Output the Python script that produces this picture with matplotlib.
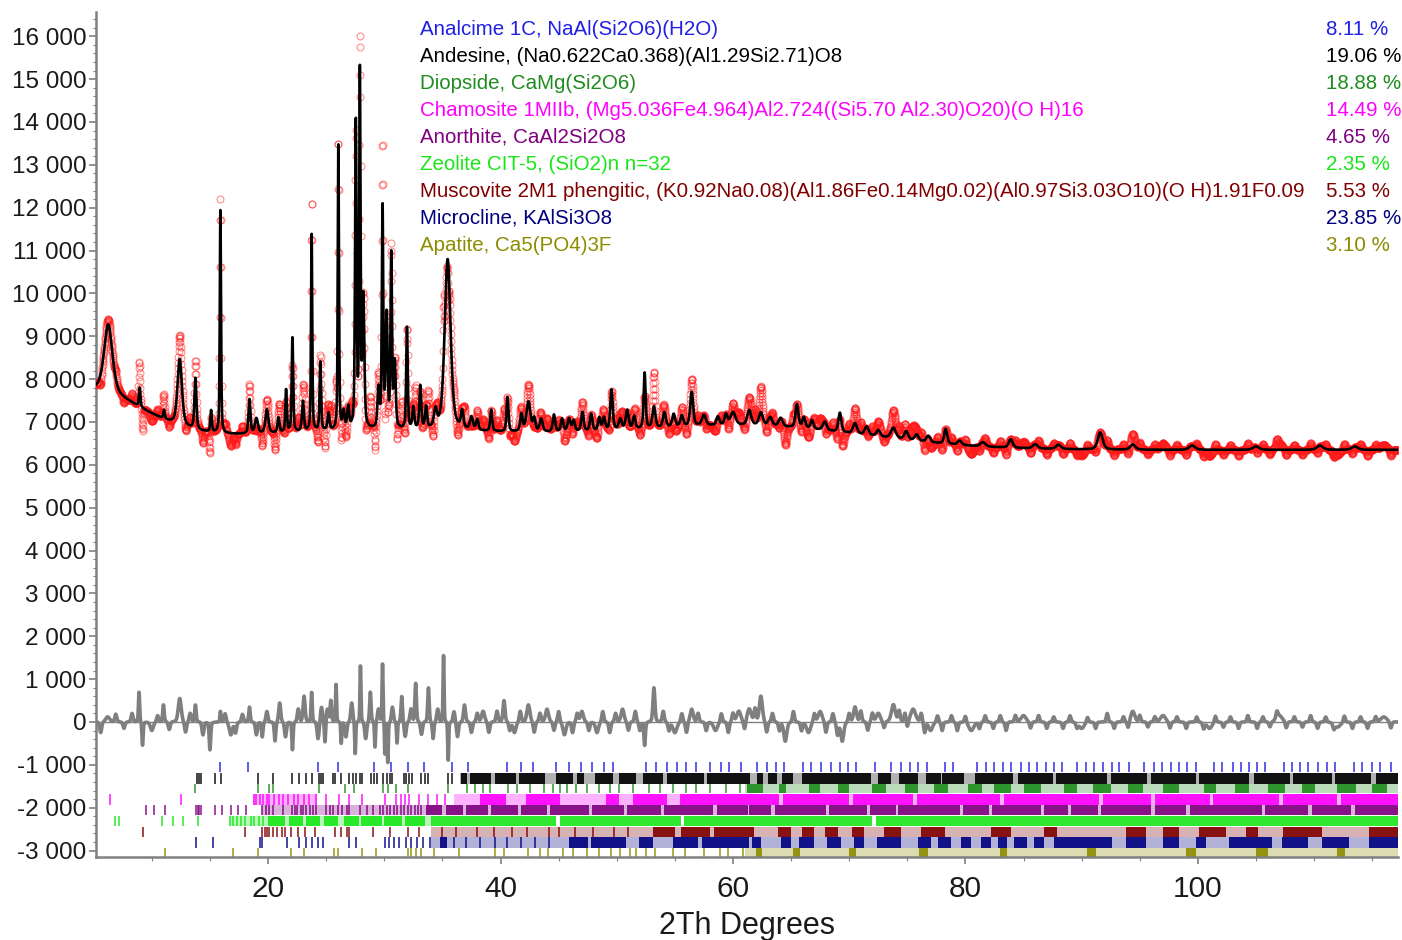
import numpy as np
import matplotlib
matplotlib.use("Agg")
import matplotlib.pyplot as plt
from matplotlib.ticker import FuncFormatter, MultipleLocator

plt.rcParams['font.family'] = ['Liberation Sans', 'DejaVu Sans']

# ---- data ----
two_theta_min, two_theta_max, step = 5.2, 117.2, 0.02

# background: flat level + broad humps (centre, height, sigma)
bg_level = 6350
bg_humps = [(4.0, 1300, 5.0), (30.0, 450, 16.0), (62.0, 500, 10.0)]

# calculated peaks: 2theta, height above background, fwhm
calc_pos = [6.25, 8.95, 11.05, 12.4, 13.75, 15.1, 15.9, 18.4, 19.0, 19.9,
            20.9, 21.55, 22.1, 23.0, 23.75, 24.5, 25.2, 26.05, 26.5, 26.9,
            27.55, 27.9, 28.2, 29.5, 29.85, 30.2, 30.6, 30.9, 31.95, 32.5,
            33.1, 33.6, 34.4, 35.45, 36.7, 37.5, 38.0, 39.2, 40.6, 41.8,
            42.4, 42.9, 43.5, 44.6, 45.3, 45.9, 46.3, 47.05, 47.8, 48.5,
            48.9, 49.55, 50.3, 50.9, 51.5, 52.4, 53.2, 54.1, 54.9, 55.6,
            56.45, 57.5, 58.7, 59.4, 60.0, 61.4, 62.4, 63.2, 64.1, 65.5,
            66.1, 66.8, 67.9, 69.2, 70.5, 71.5, 72.5, 73.8, 74.9, 75.8,
            76.8, 78.3, 79.5, 81.5, 83.9, 86.0, 88.0, 91.6, 94.4, 99.5,
            105.0, 110.5, 113.5]
calc_height = [1600, 450, 200, 1550, 1200, 500, 5200, 800, 350, 550,
               350, 1000, 2200, 700, 4700, 1600, 400, 6800, 400, 500,
               7200, 8200, 3000, 900, 5200, 2600, 4000, 1500, 2400, 500,
               1000, 500, 400, 4000, 400, 300, 250, 500, 800, 400,
               700, 300, 300, 400, 300, 300, 250, 450, 400, 300,
               300, 950, 250, 450, 300, 1300, 500, 350, 300, 250,
               800, 250, 200, 250, 300, 350, 300, 200, 200, 550,
               250, 200, 200, 450, 250, 200, 150, 250, 200, 150,
               150, 350, 100, 100, 200, 100, 100, 400, 120, 100,
               80, 100, 80]
calc_fwhm = [0.85, 0.15, 0.15, 0.45, 0.2, 0.15, 0.12, 0.2, 0.3, 0.3,
             0.2, 0.15, 0.15, 0.2, 0.12, 0.15, 0.2, 0.12, 0.2, 0.2,
             0.15, 0.13, 0.2, 0.2, 0.14, 0.2, 0.15, 0.2, 0.15, 0.2,
             0.2, 0.2, 0.3, 0.6, 0.25, 0.3, 0.25, 0.2, 0.2, 0.25,
             0.4, 0.25, 0.3, 0.25, 0.25, 0.3, 0.25, 0.25, 0.25, 0.25,
             0.25, 0.25, 0.3, 0.3, 0.25, 0.2, 0.3, 0.3, 0.3, 0.3,
             0.3, 0.4, 0.3, 0.3, 0.5, 0.4, 0.4, 0.4, 0.4, 0.3,
             0.3, 0.3, 0.4, 0.3, 0.4, 0.4, 0.4, 0.5, 0.4, 0.4,
             0.4, 0.3, 0.4, 0.5, 0.4, 0.5, 0.5, 0.5, 0.5, 0.6,
             0.6, 0.6, 0.6]

# difference (observed - calculated) features: 2theta, amplitude, fwhm
diff_pos = [6.2, 8.9, 9.2, 10.0, 11.0, 12.4, 13.75, 15.0, 15.9, 16.8,
            18.4, 19.5, 20.6, 21.0, 22.1, 23.1, 23.75, 24.9, 25.4, 25.85,
            26.3, 27.5, 27.95, 28.8, 29.2, 29.85, 30.05, 30.3, 31.1, 31.5,
            32.7, 33.8, 34.2, 35.1, 35.5, 36.3, 36.9, 38.5, 40.3, 41.2,
            42.4, 44.0, 45.5, 47.0, 48.3, 50.5, 52.4, 53.2, 55.0, 56.45,
            58.5, 60.5, 61.4, 62.4, 64.5, 66.5, 67.5, 69.4, 70.5, 72.5,
            73.8, 75.5, 77.0, 80.5, 85.0, 90.0, 94.4, 97.0, 101.0, 107.0,
            112.0, 116.0]
diff_amp = [120, 700, -550, -200, 400, 550, 400, -650, 250, -300,
            350, -350, -450, 450, -650, 600, 700, -500, 500, 900,
            -500, -750, 1350, 700, -600, 1400, -800, -950, -500, 600,
            900, 800, -400, 1550, -900, -350, 400, 250, 500, -250,
            400, 300, -300, 250, -250, 300, -550, 800, -250, 300,
            -200, 250, 300, 600, -450, -250, 250, -450, 350, 200,
            400, 300, -200, -200, 150, -150, 250, 150, -150, 150,
            -120, 120]
diff_fwhm = [0.4, 0.12, 0.12, 0.3, 0.15, 0.3, 0.15, 0.15, 0.1, 0.3,
             0.15, 0.15, 0.15, 0.2, 0.12, 0.2, 0.12, 0.12, 0.15, 0.1,
             0.1, 0.1, 0.1, 0.15, 0.1, 0.1, 0.08, 0.1, 0.1, 0.15,
             0.15, 0.15, 0.15, 0.1, 0.1, 0.2, 0.2, 0.3, 0.2, 0.3,
             0.3, 0.3, 0.3, 0.3, 0.3, 0.3, 0.15, 0.2, 0.4, 0.3,
             0.4, 0.4, 0.4, 0.3, 0.3, 0.4, 0.4, 0.3, 0.3, 0.4,
             0.4, 0.5, 0.4, 0.5, 0.5, 0.5, 0.4, 0.5, 0.5, 0.6,
             0.6, 0.6]

# small wiggles of the difference curve: 2theta, amplitude (fwhm 0.2)
wiggle_pos = [5.6, 6.9, 7.6, 8.3, 10.5, 11.5, 12.9, 13.3, 14.4, 16.3,
              17.2, 17.8, 19.0, 19.9, 21.5, 22.6, 24.3, 24.6, 25.1, 26.7,
              27.2, 28.4, 29.5, 30.7, 31.8, 32.3, 33.2, 34.6, 36.0, 37.5,
              38.0, 39.0, 39.7, 40.8, 41.7, 42.9, 43.4, 44.6, 45.0, 46.2,
              46.6, 47.6, 48.8, 49.4, 49.9, 51.0, 51.6, 52.0, 54.0, 54.5,
              55.6, 56.0, 57.0, 57.7, 59.0, 59.6, 60.0, 61.0, 61.9, 62.9,
              63.4, 64.0, 65.2, 65.9, 67.0, 68.0, 68.6, 69.0, 70.0, 71.0,
              71.6, 72.0, 73.0, 74.3, 74.8, 75.0, 76.2, 76.5, 77.6, 78.0,
              78.8, 79.3, 80.0, 81.2, 81.7, 82.4, 83.0, 83.5, 84.3, 85.6,
              86.3, 87.0, 87.6, 88.4, 89.0, 89.6, 90.5, 91.2, 92.2, 92.8,
              93.6, 94.0, 95.0, 95.7, 96.3, 97.6, 98.2, 99.0, 99.9, 100.5,
              101.5, 102.2, 102.8, 103.5, 104.3, 105.1, 105.6, 106.2, 106.8, 107.6,
              108.3, 109.0, 109.7, 110.3, 111.0, 111.7, 112.6, 113.3, 114.0, 114.6,
              115.3, 116.6]
wiggle_amp = [-250, 180, -150, 200, 150, -180, -250, 200, -300, 200,
              -250, 180, -300, 250, -350, 300, -400, 350, 300, -350,
              450, -400, 300, 350, -350, 300, -300, 300, 250, -250,
              200, -250, 250, -200, 250, -250, 200, -200, 250, -250,
              200, -200, 250, -250, 200, -200, 250, -200, 250, -200,
              200, -250, 200, -200, 200, -250, 200, -200, 300, -250,
              200, -200, 250, -200, 200, -250, 200, -300, 200, 250,
              -200, 200, -150, 250, 200, -150, 200, -250, 150, -200,
              150, -200, 150, -150, 150, -150, 150, -200, 150, -150,
              150, -150, 120, -150, 150, -120, 120, -150, 200, -150,
              120, -150, 150, -120, 120, -150, 120, -150, 120, -150,
              150, -120, 120, -150, 150, -150, 120, -120, 150, -150,
              120, -120, 150, -150, 120, -120, 150, -150, 120, -150,
              120, -150]

phase_names = ["Analcime 1C, NaAl(Si2O6)(H2O)",
               "Andesine, (Na0.622Ca0.368)(Al1.29Si2.71)O8",
               "Diopside, CaMg(Si2O6)",
               "Chamosite 1MIIb, (Mg5.036Fe4.964)Al2.724((Si5.70 Al2.30)O20)(O H)16",
               "Anorthite, CaAl2Si2O8",
               "Zeolite CIT-5, (SiO2)n n=32",
               "Muscovite 2M1 phengitic, (K0.92Na0.08)(Al1.86Fe0.14Mg0.02)(Al0.97Si3.03O10)(O H)1.91F0.09",
               "Microcline, KAlSi3O8",
               "Apatite, Ca5(PO4)3F"]
phase_pct = ["8.11 %", "19.06 %", "18.88 %", "14.49 %", "4.65 %",
             "2.35 %", "5.53 %", "23.85 %", "3.10 %"]
phase_colors = ["#1f1fe6", "#000000", "#1f8c1f", "#ff00ff", "#800080",
                "#19e619", "#800000", "#000080", "#8c8c00"]

# reflection tick positions (2theta) for each phase
ticks_analcime = [15.9, 18.3, 24.3, 26.0, 29.1, 30.6, 32.0, 33.4, 35.8, 37.2,
                  40.6, 41.8, 42.8, 44.8, 45.9, 46.9, 47.9, 48.9, 49.7, 52.5,
                  53.4, 54.3, 55.2, 56.0, 56.8, 58.0, 59.0, 59.7, 60.7, 62.1,
                  62.9, 63.7, 64.4, 66.0, 66.7, 67.6, 68.4, 69.2, 69.9, 70.6,
                  72.2, 73.6, 74.5, 75.2, 75.9, 76.7, 78.2, 78.9, 81.0, 81.8,
                  82.5, 83.2, 83.9, 84.8, 85.5, 86.2, 86.9, 87.6, 88.3, 89.6,
                  90.4, 91.1, 91.8, 92.6, 93.2, 94.1, 95.4, 96.2, 96.9, 97.7,
                  98.4, 99.1, 99.8, 101.4, 102.1, 103.0, 103.7, 104.4, 105.1, 105.8,
                  107.4, 108.1, 108.8, 109.5, 110.3, 111.1, 111.8, 113.4, 114.1, 115.0,
                  115.7, 116.6]
ticks_andesine = [13.9, 14.05, 14.2, 15.4, 15.95, 19.1, 20.4, 22.1, 22.7, 23.3,
                  23.8, 24.4, 24.55, 24.7, 25.6, 25.8, 26.3, 27.0, 27.3, 27.6,
                  27.9, 28.1, 28.85, 29.1, 29.4, 29.9, 30.2, 30.5, 30.7, 31.7,
                  31.9, 32.1, 32.4, 33.15, 33.5, 33.8, 35.5, 35.8]
ticks_diopside = [13.75, 19.1, 20.1, 20.4, 24.4, 26.6, 27.4, 29.9, 30.3, 31.0,
                  32.0, 35.5, 37.1, 37.8, 38.5, 39.1, 40.65, 41.4, 42.5, 43.7,
                  44.5, 45.1, 45.7, 46.5, 47.4, 48.5, 49.4, 50.2, 51.4, 52.8,
                  53.7, 54.8, 56.0, 56.8, 58.0, 59.4, 60.6]
ticks_chamosite = [6.37, 12.5, 18.75, 19.0, 19.3, 19.6, 19.9, 20.1, 20.5, 20.9,
                   21.3, 21.7, 22.2, 22.6, 23.1, 23.5, 24.1, 25.0, 26.1, 27.0,
                   28.1, 30.1, 31.0, 31.4, 31.8, 32.1, 33.0, 33.8, 34.5, 35.2]
ticks_anorthite = [9.5, 10.2, 11.1, 13.8, 13.95, 14.1, 14.2, 15.4, 16.0, 16.8,
                   17.4, 18.1, 19.5, 19.8, 20.1, 20.4, 21.3, 22.1, 22.3, 22.5,
                   22.8, 23.0, 23.3, 23.6, 23.9, 24.1, 25.0, 25.3, 25.6, 26.0,
                   26.4, 26.8, 27.0, 27.9, 28.5, 29.0, 29.6, 29.9, 30.2, 30.5,
                   30.8, 31.1, 31.4, 31.7, 32.0, 32.3, 32.6, 32.9, 33.2]
ticks_zeolite = [6.8, 7.2, 10.9, 11.8, 12.7, 14.0, 16.7, 17.0, 17.3, 17.7,
                 18.0, 18.5, 18.8, 19.2, 19.6]
ticks_muscovite = [9.2, 18.0, 19.5, 19.7, 19.9, 20.1, 20.4, 20.8, 21.2, 21.5,
                   22.0, 22.6, 23.2, 24.0, 25.8, 26.3, 26.8, 27.0, 29.0, 30.5,
                   32.0, 33.0, 35.0, 36.2, 38.0, 39.4, 41.0, 42.3, 44.2, 45.0,
                   46.4, 48.0, 49.8, 51.0]
ticks_microcline = [13.8, 15.25, 19.3, 19.5, 21.6, 22.7, 23.3, 23.8, 24.3, 24.7,
                    27.0, 27.6, 30.1, 30.4, 30.8, 31.3, 31.9, 32.3, 32.8, 33.3,
                    33.9, 36.0, 37.0, 38.2, 39.5, 40.6, 41.8, 43.0, 44.2]
ticks_apatite = [11.1, 17.0, 19.1, 22.0, 23.1, 25.7, 26.0, 28.1, 29.3, 32.0,
                 32.3, 32.7, 33.2, 34.3, 36.4, 39.5, 40.3, 42.4, 43.4, 44.1,
                 45.4, 46.2, 47.4, 48.5, 49.5, 50.3, 51.1, 51.7, 52.5, 53.3,
                 54.8, 55.9, 57.5, 58.9, 59.6, 60.9]

# regions where reflections merge into bands: (start, end)
light_andesine = [(36.5, 117.2)]
dark_andesine = [(36.6, 37.1), (37.4, 39.2), (39.5, 41.3), (41.6, 43.8), (44.8, 46.2),
                 (46.6, 47.2), (48.1, 49.7), (50.2, 51.7), (52.3, 54.0), (54.3, 57.5),
                 (57.8, 61.5), (62.1, 62.6), (63.0, 63.8), (64.2, 65.2), (65.9, 71.9),
                 (72.5, 73.6), (74.3, 75.9), (76.6, 77.9), (78.0, 79.9), (80.8, 84.1),
                 (84.5, 87.5), (87.8, 92.2), (92.5, 95.6), (96.0, 99.8), (100.1, 104.4),
                 (104.8, 107.9), (108.2, 111.5), (111.8, 114.9), (115.3, 117.2)]
light_diopside = [(61.0, 117.2)]
dark_diopside = [(61.2, 62.6), (64.0, 64.6), (66.5, 67.5), (69.0, 70.0), (72.0, 73.2),
                 (74.8, 75.9), (77.3, 78.5), (80.2, 81.4), (82.5, 83.9), (85.0, 86.5),
                 (88.5, 89.6), (91.0, 92.5), (94.0, 95.3), (97.0, 98.4), (100.5, 101.6),
                 (103.2, 104.4), (106.0, 107.5), (109.0, 110.1), (112.0, 113.6), (115.0, 116.3)]
light_chamosite = [(18.7, 24.2), (36.0, 117.2)]
dark_chamosite = [(38.2, 40.5), (42.2, 45.1), (49.1, 50.2), (51.4, 54.3), (55.4, 61.4),
                  (61.4, 64.0), (64.3, 70.0), (70.3, 75.5), (75.8, 83.0), (83.3, 91.5),
                  (91.8, 96.0), (96.3, 101.0), (101.3, 107.0), (107.3, 112.0), (112.3, 117.2)]
light_anorthite = [(19.5, 117.2)]
dark_anorthite = [(33.6, 35.0), (35.3, 36.8), (37.0, 38.9), (39.2, 41.5), (41.8, 44.0),
                  (44.3, 47.6), (47.9, 50.6), (50.9, 53.8), (54.1, 58.3), (58.6, 61.3),
                  (61.4, 63.3), (63.6, 68.0), (68.3, 71.5), (71.8, 74.0), (74.2, 79.5),
                  (79.8, 82.0), (82.3, 86.5), (86.8, 88.8), (89.1, 91.4), (91.7, 96.0),
                  (96.3, 99.0), (99.3, 105.5), (105.8, 109.5), (109.8, 113.2), (113.5, 117.2)]
light_zeolite = [(16.7, 34.0)]
dark_zeolite = [(20.0, 21.5), (21.8, 23.0), (23.3, 24.5), (24.8, 26.0), (26.5, 27.8),
                (28.0, 29.8), (30.0, 31.5), (31.8, 33.5), (34.0, 44.8), (45.1, 55.5),
                (55.8, 72.0), (72.3, 117.2)]
light_muscovite = [(34.0, 117.2)]
dark_muscovite = [(53.1, 55.0), (55.5, 58.0), (58.4, 61.8), (63.9, 65.0), (65.9, 67.0),
                  (67.9, 69.0), (70.2, 71.3), (73.0, 74.5), (76.2, 78.2), (82.2, 83.9),
                  (86.8, 87.9), (93.8, 95.5), (97.0, 98.4), (100.1, 102.4), (104.1, 105.2),
                  (107.3, 110.7), (114.7, 117.2)]
light_microcline = [(34.0, 117.2)]
dark_microcline = [(34.8, 35.4), (45.9, 47.5), (47.8, 50.8), (51.9, 53.1), (54.8, 57.0),
                   (57.3, 61.4), (61.6, 62.4), (64.1, 65.0), (65.7, 67.0), (68.1, 69.3),
                   (70.4, 71.3), (72.4, 74.5), (75.9, 77.0), (77.6, 78.8), (79.6, 80.5),
                   (81.3, 82.2), (82.8, 83.6), (84.2, 85.3), (85.9, 86.8), (87.6, 92.6),
                   (93.8, 95.5), (97.0, 98.4), (99.8, 100.7), (102.7, 106.4), (107.2, 109.5),
                   (110.7, 113.0), (114.7, 117.2)]
light_apatite = [(61.0, 117.2)]
dark_apatite = [(62.0, 62.5), (65.2, 65.8), (70.0, 70.6), (76.0, 76.8), (83.0, 83.6),
                (90.5, 91.2), (99.0, 99.8), (105.0, 106.0), (112.0, 112.7)]

# tick rows: top and height (counts)
row_top = [-930, -1190, -1450, -1680, -1935, -2185, -2440, -2680, -2935]
row_height = [240, 250, 210, 250, 245, 250, 235, 250, 240]

tick_lists = [ticks_analcime, ticks_andesine, ticks_diopside, ticks_chamosite,
              ticks_anorthite, ticks_zeolite, ticks_muscovite, ticks_microcline,
              ticks_apatite]
light_lists = [[], light_andesine, light_diopside, light_chamosite, light_anorthite,
               light_zeolite, light_muscovite, light_microcline, light_apatite]
dark_lists = [[], dark_andesine, dark_diopside, dark_chamosite, dark_anorthite,
              dark_zeolite, dark_muscovite, dark_microcline, dark_apatite]


def pvoigt(x, c, h, w, eta=0.5):
    t = (x - c) / w
    return h * (eta / (1 + 4 * t ** 2) + (1 - eta) * np.exp(-4 * np.log(2) * t ** 2))


x = np.arange(two_theta_min, two_theta_max, step)
bg = np.full_like(x, bg_level, dtype=float)
for c, h, s in bg_humps:
    bg += h * np.exp(-(x - c) ** 2 / (2 * s ** 2))
calc = bg.copy()
for c, h, w in zip(calc_pos, calc_height, calc_fwhm):
    calc += pvoigt(x, c, h, w)
diff = np.zeros_like(x)
for c, a, w in zip(diff_pos, diff_amp, diff_fwhm):
    diff += pvoigt(x, c, a, w, eta=0.3)
for c, a in zip(wiggle_pos, wiggle_amp):
    diff += pvoigt(x, c, a, 0.2, eta=0.2)
obs = calc + diff

fig = plt.figure(figsize=(14.02, 9.40), dpi=100)
ax = fig.add_axes([0.0685, 0.0883, 0.9285, 0.8987])

ax.plot(x, obs, 'o', ms=5, mfc='none', mec='#ff1a1a', mew=0.7, alpha=0.55, zorder=3)
ax.plot(x, calc, color='black', lw=1.9, zorder=4)
ax.axhline(0, color='#808080', lw=1, zorder=2)
ax.plot(x, diff, color='#7f7f7f', lw=2.6, zorder=3)

for i, col in enumerate(phase_colors):
    ybot = row_top[i] - row_height[i]
    if light_lists[i]:
        ax.broken_barh([(s, e - s) for s, e in light_lists[i]], (ybot, row_height[i]),
                       facecolors=col, alpha=0.3, lw=0, zorder=2)
    if dark_lists[i]:
        ax.broken_barh([(s, e - s) for s, e in dark_lists[i]], (ybot, row_height[i]),
                       facecolors=col, alpha=0.9, lw=0, zorder=2)
    ax.vlines(tick_lists[i], ybot, row_top[i], colors=col, lw=1.2, alpha=0.85, zorder=2)

# phase legend
name_x, pct_x = 33.06, 111.0
for i, (nm, pc, col) in enumerate(zip(phase_names, phase_pct, phase_colors)):
    yy = 16163 - 630 * i
    ax.text(name_x, yy, nm, color=col, fontsize=14.8, va='center', ha='left', zorder=1)
    ax.text(pct_x, yy, pc, color=col, fontsize=14.8, va='center', ha='left', zorder=1,
            clip_on=False)

ax.set_xlim(two_theta_min, two_theta_max)
ax.set_ylim(-3150, 16560)
ax.yaxis.set_major_locator(MultipleLocator(1000))
ax.yaxis.set_minor_locator(MultipleLocator(200))
ax.xaxis.set_major_locator(MultipleLocator(20))
ax.xaxis.set_minor_locator(MultipleLocator(5))
ax.yaxis.set_major_formatter(FuncFormatter(lambda v, p: f"{v:,.0f}".replace(",", " ")))

for side in ['top', 'right']:
    ax.spines[side].set_visible(False)
for side in ['left', 'bottom']:
    ax.spines[side].set_color('#808080')
    ax.spines[side].set_linewidth(1.8)
ax.tick_params(axis='y', which='major', labelsize=17.5, length=5, width=1.2,
               color='#808080', labelcolor='#1a1a1a', pad=2)
ax.tick_params(axis='y', which='minor', length=2.5, width=0.8, color='#808080')
ax.tick_params(axis='x', which='major', labelsize=21.5, length=5, width=1.2,
               color='#808080', labelcolor='#1a1a1a', pad=8)
ax.tick_params(axis='x', which='minor', length=3, width=0.8, color='#808080')
ax.set_xlabel("2Th Degrees", fontsize=22, color='#1a1a1a', labelpad=6)

fig.savefig("out.png", dpi=100)
